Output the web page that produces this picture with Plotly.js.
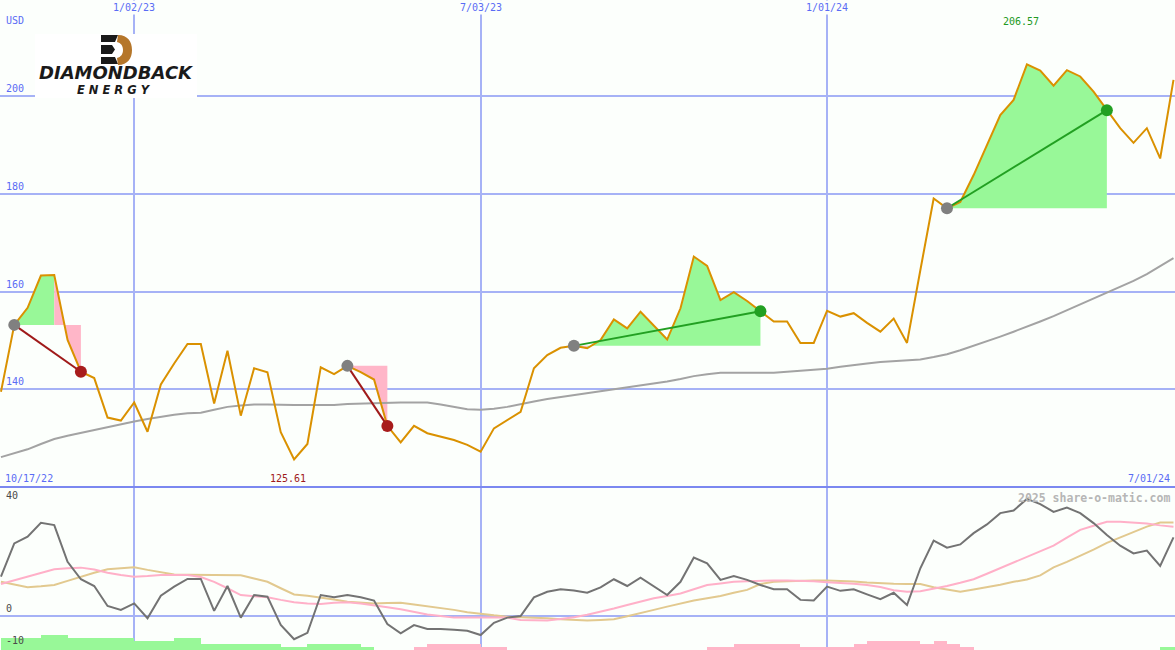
<!DOCTYPE html>
<html><head><meta charset="utf-8">
<script src="https://cdn.plot.ly/plotly-3.0.1.min.js"></script>
<style>html,body{margin:0;padding:0;background:#fcfffc;}#chart{width:1175px;height:650px;}</style>
</head><body><div id="chart"></div>
<script>
// ---------- data (weekly) ----------
const firstWeek = '2022-10-24';
const price = [139.5,153.2,156.7,163.3,163.4,150.1,143.6,142.3,134.2,133.6,
 137.3,131.3,141.0,145.3,149.3,149.3,137.1,147.9,134.6,144.3,
 143.5,131.2,125.61,128.8,144.5,143.1,144.8,143.5,142.0,132.5,
 129.1,132.5,131.0,130.3,129.6,128.6,127.2,132.0,133.7,135.4,
 144.3,147.0,148.5,148.9,148.4,150.1,154.3,152.5,155.9,153.0,
 150.2,156.6,167.2,165.3,158.3,159.9,158.1,156.0,153.9,153.9,
 149.5,149.5,156.1,154.9,155.6,153.6,151.8,154.5,149.5,164.4,
 179.1,177.1,178.4,183.9,190.0,196.2,199.3,206.57,205.3,202.2,
 205.4,204.1,201.0,197.2,193.5,190.5,193.5,187.3,203.4];
const movingAvg = [126.1,126.9,127.7,128.8,129.8,130.5,131.1,131.7,132.3,132.9,
 133.4,133.9,134.4,134.8,135.1,135.2,135.8,136.4,136.7,136.9,
 136.9,136.8,136.8,136.8,136.8,136.8,137.0,137.1,137.2,137.3,
 137.3,137.3,137.3,136.9,136.4,135.9,135.8,136.0,136.4,137.0,
 137.5,138.0,138.4,138.8,139.2,139.5,139.9,140.3,140.7,141.2,
 141.6,142.1,142.7,143.1,143.4,143.4,143.4,143.3,143.4,143.6,
 143.8,143.9,144.2,144.6,145.0,145.3,145.6,145.8,146.0,146.1,
 146.6,147.2,148.0,148.9,149.8,150.8,151.8,152.8,153.9,155.0,
 156.2,157.3,158.5,159.8,161.0,162.2,163.6,165.2,166.9];
const oscGrey = [12.1,22.4,24.5,28.8,28.1,16.7,11.3,9.2,3.0,1.8,
 3.8,-0.8,6.2,9.0,11.4,11.4,1.5,9.2,-0.6,6.4,
 5.9,-2.9,-7.3,-5.3,6.4,5.7,6.4,5.7,4.7,-2.6,
 -5.5,-2.9,-4.1,-4.1,-4.4,-4.7,-6.0,-2.2,-0.6,-0.1,
 5.7,7.4,8.2,7.8,7.1,8.8,11.3,9.2,11.8,9.2,
 6.4,10.5,18.0,16.2,11.1,12.3,11.1,9.5,8.2,8.2,
 4.9,4.7,9.0,7.7,8.2,6.6,5.1,7.1,3.3,14.7,
 23.3,21.1,22.1,25.6,28.3,31.8,32.6,36.2,34.6,32.2,
 33.5,31.8,28.7,25.0,21.7,19.3,20.2,15.4,24.3];
const oscPink = [9.8,10.9,12.1,13.3,14.4,14.7,14.9,14.3,13.3,12.6,
 12.1,12.3,12.6,12.6,12.6,12.0,10.5,8.5,6.4,6.0,
 5.7,4.9,4.2,3.8,3.6,4.0,4.2,3.8,3.3,2.6,
 2.0,1.2,0.4,-0.1,-0.6,-0.6,-0.6,-0.6,-0.6,-1.3,
 -1.4,-1.5,-1.0,-0.5,0.3,1.2,2.2,3.3,4.3,5.4,
 6.1,6.9,8.2,9.5,10.0,10.5,10.7,10.9,10.9,10.9,
 10.9,10.7,10.4,10.2,9.9,9.5,8.9,7.9,7.4,7.6,
 8.3,9.2,10.2,11.3,13.0,14.7,16.4,18.1,19.9,21.7,
 24.2,26.6,27.9,29.1,29.1,28.9,28.6,28.0,27.6];
const oscTan = [10.5,9.6,8.8,9.1,9.5,10.8,12.1,13.3,14.4,14.8,
 15.0,14.2,13.5,12.8,12.7,12.6,12.6,12.6,12.5,11.5,
 10.5,8.5,6.6,6.2,5.7,5.0,4.3,4.0,3.8,3.9,
 4.0,3.5,3.0,2.4,1.8,1.1,0.5,0.1,-0.3,-0.4,
 -0.5,-0.8,-1.1,-1.3,-1.5,-1.3,-1.1,-0.2,0.7,1.8,
 2.8,3.8,4.7,5.4,6.1,7.1,8.0,9.8,10.5,10.7,
 10.9,10.9,10.9,10.8,10.6,10.3,10.0,9.9,9.8,9.8,
 8.8,8.1,7.4,8.1,8.8,9.6,10.5,11.2,12.5,15.0,
 16.7,18.5,20.5,22.6,24.3,26.0,27.6,28.9,28.9];
const trendBars = [4,4,4,5,5,4,4,4,4,4,
 3,3,3,4,4,2,2,2,2,2,
 2,1,1,2,2,2,2,1,0,0,
 0,-1,-2,-2,-2,-2,-1,-1,0,0,
 0,0,0,0,0,0,0,0,0,0,
 0,0,0,-1,-1,-2,-2,-2,-2,-2,
 -1,-1,-1,-1,-2,-3,-3,-3,-3,-2,
 -3,-2,-1,0,0,0,0,0,0,0,
 0,0,0,0,0,0,0,1,1];
const tradeStart = [1, 26, 43, 71];
const tradeEnd = [6, 29, 57, 83];
const xGridDates = ['2023-01-02', '2023-07-03', '2024-01-01'];
const xGridText = ['1/02/23', '7/03/23', '1/01/24'];
const yMainTicks = [140, 160, 180, 200];
const yLowTicks = [40, 0, -10];
const rangeStartText = '10/17/22';
const rangeEndText = '7/01/24';
const currencyLabel = 'USD';
const watermark = '2025 share-o-matic.com';
const logoName = 'DIAMONDBACK';
const logoSub = 'E N E R G Y';

// ---------- derived ----------
const DAY = 864e5;
const t0 = Date.parse(firstWeek + 'T00:00:00Z');
const dates = price.map((_, i) => new Date(t0 + i * 7 * DAY).toISOString().slice(0, 10));

const BG = '#fcfffc';
const GRID = '#a6b2f6';
const TICKC = '#5a6cf5';
const MONO = 'DejaVu Sans Mono';
const GREENF = '#98f898', PINKF = '#ffb6c8';
const LOWER_TOP = 163 / 650;
const Y2RANGE = [-10.64, 39.9];

const traces = [];
// trade fills
tradeStart.forEach((s, k) => {
  const e = tradeEnd[k];
  const level = price[s];
  const win = price[e] > level;
  let split = s;
  for (let i = s; i <= e; i++) {
    if (win ? price[i] < price[split] : price[i] > price[split]) split = i;
  }
  const parts = [[s, split, win ? PINKF : GREENF], [split, e, win ? GREENF : PINKF]];
  parts.forEach(([a, b, col]) => {
    if (b - a < 1) return;
    const xs = dates.slice(a, b + 1);
    traces.push({x: xs, y: xs.map(() => level), mode: 'lines', line: {width: 0}, hoverinfo: 'skip', xaxis: 'x', yaxis: 'y'});
    traces.push({x: xs, y: price.slice(a, b + 1), mode: 'lines', line: {width: 0}, fill: 'tonexty', fillcolor: col, hoverinfo: 'skip', xaxis: 'x', yaxis: 'y'});
  });
});
// moving average + price
traces.push({x: dates, y: movingAvg, mode: 'lines', line: {color: '#a3a3a3', width: 2}, xaxis: 'x', yaxis: 'y'});
traces.push({x: dates, y: price, mode: 'lines', line: {color: '#da9100', width: 2}, xaxis: 'x', yaxis: 'y'});
// trade lines and dots
tradeStart.forEach((s, k) => {
  const e = tradeEnd[k];
  const win = price[e] > price[s];
  const col = win ? '#22a022' : '#a01a1a';
  traces.push({x: [dates[s], dates[e]], y: [price[s], price[e]], mode: 'lines', line: {color: col, width: 2}, xaxis: 'x', yaxis: 'y'});
  traces.push({x: [dates[s], dates[e]], y: [price[s], price[e]], mode: 'markers',
    marker: {size: 12, color: ['#808080', win ? '#22a022' : '#a81c1c']}, xaxis: 'x', yaxis: 'y'});
});
// lower panel bars
traces.push({type: 'bar', x: dates, y: trendBars.map(Math.abs), base: 0,
  marker: {color: trendBars.map(v => v >= 0 ? GREENF : PINKF), line: {width: 0}},
  offset: 0, width: 7 * DAY, xaxis: 'x2', yaxis: 'y3', hoverinfo: 'skip'});
// lower panel lines
traces.push({x: dates, y: oscTan, mode: 'lines', line: {color: '#e2c98f', width: 2}, xaxis: 'x2', yaxis: 'y2'});
traces.push({x: dates, y: oscPink, mode: 'lines', line: {color: '#ffb0c8', width: 2}, xaxis: 'x2', yaxis: 'y2'});
traces.push({x: dates, y: oscGrey, mode: 'lines', line: {color: '#737373', width: 2}, xaxis: 'x2', yaxis: 'y2'});

const xRange = ['2022-10-23 12:00', '2024-07-01 19:00'];
const xBase = {type: 'date', range: xRange, domain: [0, 1], tickvals: xGridDates, showticklabels: false,
  showgrid: true, gridcolor: GRID, gridwidth: 2, zeroline: false, showline: false, ticks: '', fixedrange: true};

const annotations = [];
const tickFont = {family: MONO, size: 10, color: TICKC};
xGridDates.forEach((d, i) => annotations.push({x: d, xref: 'x', y: 1, yref: 'paper', yanchor: 'top', xanchor: 'center',
  text: xGridText[i], showarrow: false, font: tickFont, bgcolor: BG, borderpad: 1, yshift: 0}));
annotations.push({x: 0, xref: 'paper', y: 1, yref: 'paper', xanchor: 'left', yanchor: 'top', xshift: 4, yshift: -13,
  text: currencyLabel, showarrow: false, font: tickFont});
yMainTicks.forEach(v => annotations.push({x: 0, xref: 'paper', y: v, yref: 'y', xanchor: 'left', yanchor: 'bottom',
  xshift: 4, yshift: 0, text: String(v), showarrow: false, font: tickFont}));
yLowTicks.forEach(v => {
  const atTop = v >= Y2RANGE[1];
  annotations.push({x: 0, xref: 'paper', y: atTop ? 1 : v, yref: atTop ? 'y2 domain' : 'y2', xanchor: 'left',
    yanchor: atTop ? 'top' : 'bottom', xshift: 4, yshift: atTop ? -1 : 0, text: String(v), showarrow: false,
    font: {family: MONO, size: 10, color: '#4a4a4a'}});
});
annotations.push({x: 0, xref: 'paper', y: LOWER_TOP, yref: 'paper', xanchor: 'left', yanchor: 'bottom', xshift: 3, yshift: 1,
  text: rangeStartText, showarrow: false, font: tickFont});
annotations.push({x: 1, xref: 'paper', y: LOWER_TOP, yref: 'paper', xanchor: 'right', yanchor: 'bottom', xshift: -3, yshift: 1,
  text: rangeEndText, showarrow: false, font: tickFont});
const iMin = price.indexOf(Math.min(...price));
const iMax = price.indexOf(Math.max(...price));
annotations.push({x: dates[iMin], xref: 'x', y: LOWER_TOP, yref: 'paper', xanchor: 'center', yanchor: 'bottom', xshift: -6, yshift: 1,
  text: price[iMin].toFixed(2), showarrow: false, font: {family: MONO, size: 10, color: '#a01a1a'}});
annotations.push({x: dates[iMax], xref: 'x', y: 1, yref: 'paper', xanchor: 'center', yanchor: 'top', xshift: -6, yshift: -14,
  text: price[iMax].toFixed(2), showarrow: false, font: {family: MONO, size: 10, color: '#229922'}});
annotations.push({x: 1, xref: 'paper', y: LOWER_TOP, yref: 'paper', xanchor: 'right', yanchor: 'top', xshift: -3, yshift: -2,
  text: watermark, showarrow: false, font: {family: MONO, size: 11.5, color: '#b6b6b6', weight: 'bold'}});
// logo text
annotations.push({x: 116 / 1175, xref: 'paper', y: 1 - 72.5 / 650, yref: 'paper', xanchor: 'center', yanchor: 'middle',
  text: logoName, showarrow: false, font: {family: 'DejaVu Sans', size: 18, color: '#1a1a1a', weight: 'bold', style: 'italic'}});
annotations.push({x: 114 / 1175, xref: 'paper', y: 1 - 90 / 650, yref: 'paper', xanchor: 'center', yanchor: 'middle',
  text: logoSub, showarrow: false, font: {family: 'DejaVu Sans', size: 11.5, color: '#1a1a1a', weight: 'bold', style: 'italic'}});

const toPaper = p => p.replace(/(-?\d+\.?\d*),(-?\d+\.?\d*)/g, (m, a, b) => (a / 1175).toFixed(5) + ',' + (1 - b / 650).toFixed(5));
const shapes = [
  {type: 'line', xref: 'paper', yref: 'paper', x0: 0, x1: 1, y0: LOWER_TOP, y1: LOWER_TOP, line: {color: '#7b88f0', width: 2}, layer: 'above'},
  {type: 'rect', xref: 'paper', yref: 'paper', x0: 35 / 1175, x1: 197 / 1175, y0: 1 - 98 / 650, y1: 1 - 34 / 650, fillcolor: '#ffffff', line: {width: 0}, layer: 'above'},
  {type: 'path', xref: 'paper', yref: 'paper', layer: 'above', fillcolor: '#1a1a1a', line: {width: 0},
    path: toPaper('M101,35 L118,35 L115,42 L101,42 Z M101,45 L112,45 L115,49.5 L112,54 L101,54 Z M101,57 L115,57 L118,64 L101,64 Z')},
  {type: 'path', xref: 'paper', yref: 'paper', layer: 'above', fillcolor: '#b5762a', line: {width: 0},
    path: toPaper('M118,35 C128,35 132,42 132,50 C132,58 128,65 118,65 L117,58 C121,57 123,54 123,50 C123,46 121,43 117,42 Z')}
];

const layout = {
  width: 1175, height: 650, margin: {l: 0, r: 0, t: 0, b: 0},
  paper_bgcolor: BG, plot_bgcolor: BG, showlegend: false, bargap: 0,
  xaxis: Object.assign({}, xBase, {anchor: 'y'}),
  xaxis2: Object.assign({}, xBase, {anchor: 'y2', matches: 'x'}),
  yaxis: {domain: [LOWER_TOP, 1], range: [119.98, 219.77], tickvals: yMainTicks, showticklabels: false,
    showgrid: true, gridcolor: GRID, gridwidth: 2, zeroline: false, ticks: '', fixedrange: true},
  yaxis2: {domain: [0, LOWER_TOP], range: Y2RANGE, tickvals: [0], showticklabels: false,
    showgrid: true, gridcolor: GRID, gridwidth: 2, zeroline: false, ticks: '', fixedrange: true},
  yaxis3: {overlaying: 'y2', anchor: 'x2', range: [0, 163 / 3], visible: false, showgrid: false, fixedrange: true},
  annotations, shapes
};
Plotly.newPlot('chart', traces, layout, {staticPlot: true, displayModeBar: false});
</script></body></html>
